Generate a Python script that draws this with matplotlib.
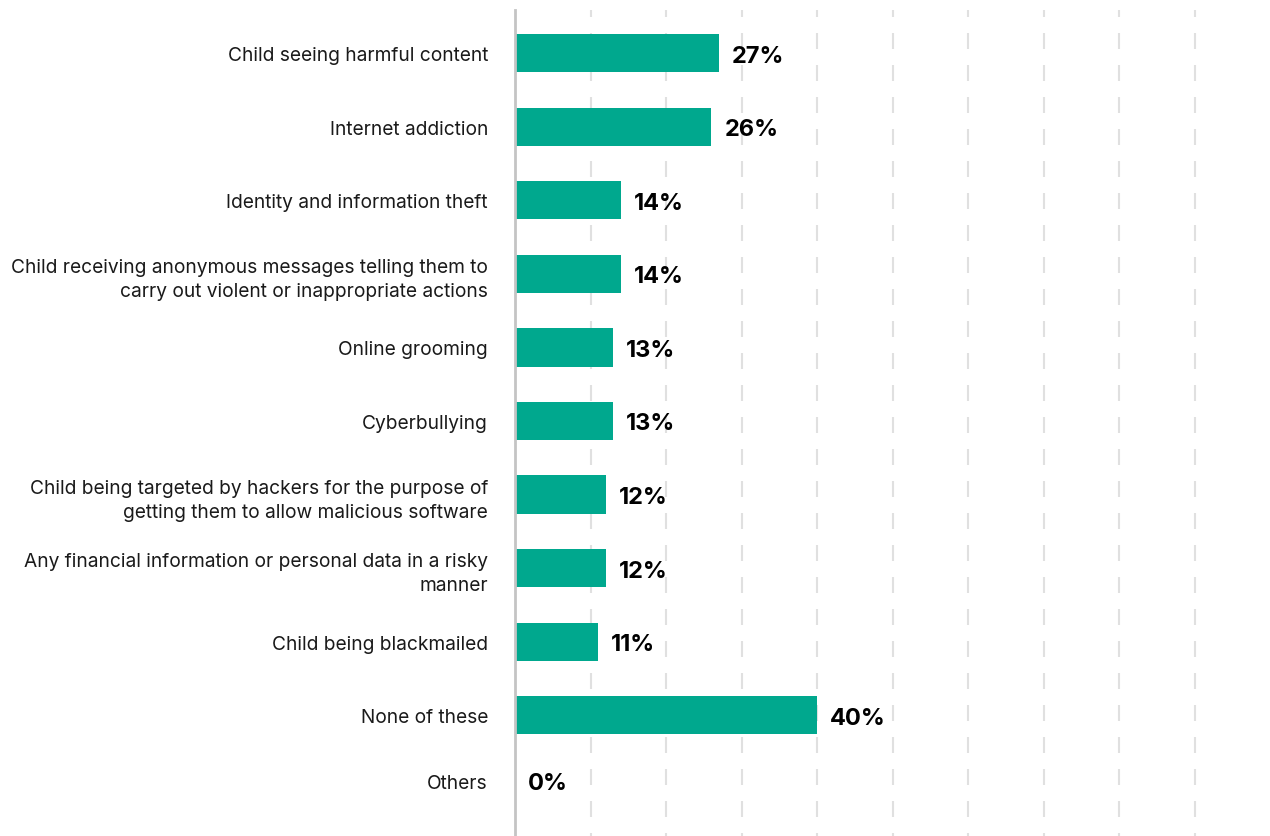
import numpy as np
import matplotlib.pyplot as plt

# Survey answers, top to bottom
categories = [
    "Child seeing harmful content",
    "Internet addiction",
    "Identity and information theft",
    "Child receiving anonymous messages telling them to\ncarry out violent or inappropriate actions",
    "Online grooming",
    "Cyberbullying",
    "Child being targeted by hackers for the purpose of\ngetting them to allow malicious software",
    "Any financial information or personal data in a risky\nmanner",
    "Child being blackmailed",
    "None of these",
    "Others",
]
values = [27, 26, 14, 14, 13, 13, 12, 12, 11, 40, 0]

teal = "#00a88e"

fig = plt.figure(figsize=(12.7, 8.37), dpi=100)
ax = fig.add_axes([515 / 1270, 0, 755 / 1270, 826 / 837])

y = np.arange(len(values), dtype=float)
y[-1] -= 0.11  # last row sits a little closer

ax.barh(y, values, height=0.52, color=teal, zorder=2)

for yi, v in zip(y, values):
    ax.text(v + 1.75, yi, f"{v}%", va="center_baseline", ha="left",
            fontsize=17, fontweight="bold", family="Inter", color="black")

ax.set_yticks(y)
ax.set_yticklabels(categories, family="Inter", fontsize=13.8, color="#1a1a1a",
                   linespacing=1.45)
ax.tick_params(axis="y", length=0, pad=19.5)
ax.tick_params(axis="x", length=0, labelbottom=False)

ax.set_xlim(0, 100)
ax.set_ylim(10.64, -0.585)

# dashed guides every 10 points, drawn behind the bars
ax.set_xticks(np.arange(10, 100, 10))
ax.grid(axis="x", color="#e0e0e0", linewidth=1.5, linestyle=(6.24, (7.68, 7.68)))
ax.grid(axis="y", visible=False)

for side in ("top", "right", "bottom"):
    ax.spines[side].set_visible(False)
ax.spines["left"].set_color("#c4c4c4")
ax.spines["left"].set_linewidth(2)

fig.savefig("out.png", dpi=100)
